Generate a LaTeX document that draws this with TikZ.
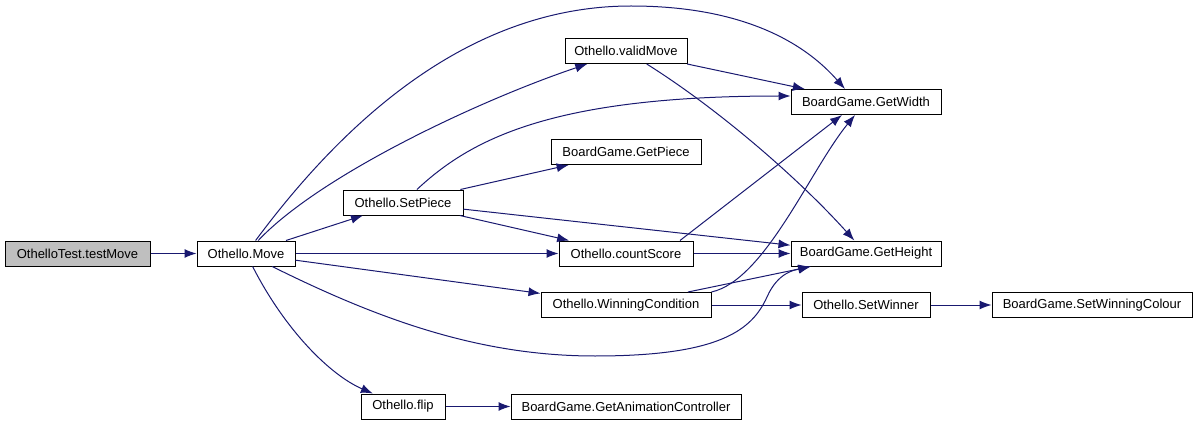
\documentclass[tikz,border=0pt]{standalone}
\usepackage{fontspec}
\setmainfont{Liberation Sans}
\usetikzlibrary{arrows.meta}
\definecolor{edgeblue}{HTML}{191970}
\definecolor{rootgray}{HTML}{BFBFBF}
\begin{document}
\begin{tikzpicture}[x=1pt,y=-1pt,
  box/.style={draw=black,line width=1pt,fill=white,rectangle,inner sep=0pt,minimum height=25pt,font=\fontsize{13}{15}\selectfont},
  edge/.style={draw=edgeblue,line width=1pt,-{Latex[length=12pt,width=9pt]}}]
\useasboundingbox (0,0) rectangle (1197,425);
% nodes
\node[box,fill=rootgray,minimum width=145pt] (tm) at (77.5,253.5) {OthelloTest.testMove};
\node[box,minimum width=98pt] (mv) at (246,253.5) {Othello.Move};
\node[box,minimum width=120pt] (sp) at (403,202.5) {Othello.SetPiece};
\node[box,minimum width=122pt] (vm) at (626,51) {Othello.validMove};
\node[box,minimum width=150pt] (gw) at (866,102) {BoardGame.GetWidth};
\node[box,minimum width=150pt] (gp) at (626,152) {BoardGame.GetPiece};
\node[box,minimum width=134pt] (cs) at (626,253.5) {Othello.countScore};
\node[box,minimum width=150pt] (gh) at (866,253.5) {BoardGame.GetHeight};
\node[box,minimum width=170pt] (wc) at (626,305) {Othello.WinningCondition};
\node[box,minimum width=128pt] (sw) at (866,305) {Othello.SetWinner};
\node[box,minimum width=200pt] (swc) at (1092,305) {BoardGame.SetWinningColour};
\node[box,minimum width=84pt] (fl) at (403,406.5) {Othello.flip};
\node[box,minimum width=230pt] (gac) at (626,406.5) {BoardGame.GetAnimationController};
\coordinate (topc) at (631,6);
\coordinate (botc) at (595,356);
\coordinate (botd) at (767,297);
% edges
\draw[edge] (tm) -- (mv);
\draw[edge] (mv) .. controls (320,175) and (480,100) .. (vm);
\draw[edge] (mv) .. controls (345,120) and (470,6) .. (topc) .. controls (760,6) and (815,55) .. ([xshift=-21pt]gw.north);
\draw[edge] (mv) -- (sp);
\draw[edge] (mv) -- (cs);
\draw[edge] (mv) -- (wc);
\draw[edge] (mv) .. controls (380,320) and (480,356) .. (botc) .. controls (720,356) and (752,330) .. (botd) .. controls (778,272) and (795,270) .. (gh);
\draw[edge] (mv) .. controls (285,330) and (330,375) .. (fl);
\draw[edge] (sp) .. controls (470,140) and (550,96) .. ([yshift=6pt]gw.west);
\draw[edge] (sp) -- (gp);
\draw[edge] (sp) -- (cs);
\draw[edge] (sp) -- (gh);
\draw[edge] (vm) -- (gw);
\draw[edge] (vm) .. controls (720,110) and (800,180) .. (gh);
\draw[edge] ([xshift=54pt]cs.north) -- ([xshift=-24pt]gw.south);
\draw[edge] (cs) -- (gh);
\draw[edge] (wc.north east) .. controls (765,280) and (810,170) .. ([xshift=-11pt]gw.south);
\draw[edge] ([xshift=62pt]wc.north) -- ([xshift=-55pt]gh.south);
\draw[edge] (wc) -- (sw);
\draw[edge] (sw) -- (swc);
\draw[edge] (fl) -- (gac);
\end{tikzpicture}
\end{document}
